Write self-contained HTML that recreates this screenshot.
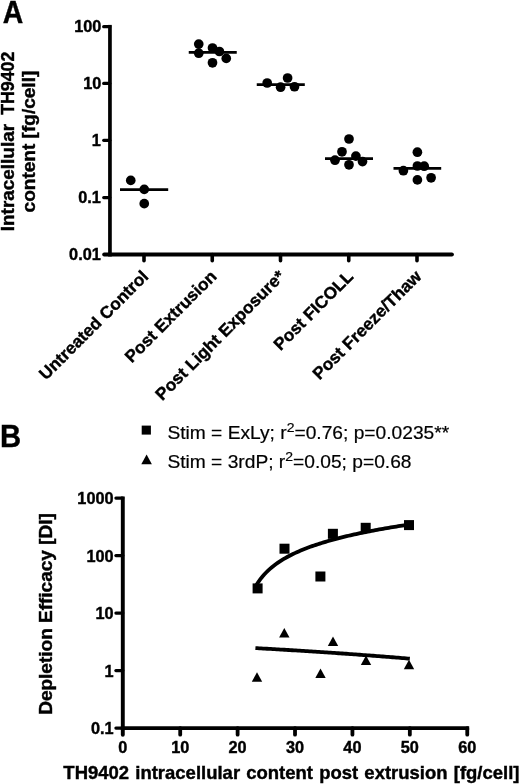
<!DOCTYPE html><html><head><meta charset="utf-8"><title>Figure</title>
<style>html,body{margin:0;padding:0;background:#fff}svg{display:block}text{font-family:"Liberation Sans",Arial,Helvetica,sans-serif;fill:#000}.b{font-weight:bold;stroke:#000;stroke-width:0.4px}</style></head><body>
<svg width="520" height="784" viewBox="0 0 520 784">
<rect width="520" height="784" fill="#fff"/>
<defs><filter id="soft" x="0" y="0" width="100%" height="100%" filterUnits="userSpaceOnUse"><feGaussianBlur stdDeviation="0.45"/></filter></defs>
<g filter="url(#soft)">
<text class="b" font-size="30.5" text-anchor="middle" transform="translate(13.00,22.80) scale(0.9300,1.0000)">A</text>
<g stroke="#000" stroke-linecap="butt" fill="none">
<line x1="109.95" y1="24.9" x2="109.95" y2="256.5" stroke-width="3.7"/>
<line x1="104.2" y1="254.5" x2="451.9" y2="254.5" stroke-width="4" stroke-linecap="round"/>
<line x1="103.7" y1="26.70" x2="109.8" y2="26.70" stroke-width="3.2" stroke-linecap="round"/>
<line x1="103.7" y1="83.40" x2="109.8" y2="83.40" stroke-width="3.2" stroke-linecap="round"/>
<line x1="103.7" y1="140.30" x2="109.8" y2="140.30" stroke-width="3.2" stroke-linecap="round"/>
<line x1="103.7" y1="197.60" x2="109.8" y2="197.60" stroke-width="3.2" stroke-linecap="round"/>
<line x1="144.00" y1="254.5" x2="144.00" y2="260.7" stroke-width="3.6" stroke-linecap="round"/>
<line x1="212.25" y1="254.5" x2="212.25" y2="260.7" stroke-width="3.6" stroke-linecap="round"/>
<line x1="280.50" y1="254.5" x2="280.50" y2="260.7" stroke-width="3.6" stroke-linecap="round"/>
<line x1="348.75" y1="254.5" x2="348.75" y2="260.7" stroke-width="3.6" stroke-linecap="round"/>
<line x1="417.00" y1="254.5" x2="417.00" y2="260.7" stroke-width="3.6" stroke-linecap="round"/>
</g>
<text class="b" font-size="16.3" text-anchor="end" transform="translate(101.30,31.50)">100</text>
<text class="b" font-size="16.3" text-anchor="end" transform="translate(101.30,89.20)">10</text>
<text class="b" font-size="16.3" text-anchor="end" transform="translate(100.80,146.10)">1</text>
<text class="b" font-size="16.3" text-anchor="end" transform="translate(100.80,203.40)">0.1</text>
<text class="b" font-size="16.3" text-anchor="end" transform="translate(100.80,260.30)">0.01</text>
<line x1="120" y1="189.55" x2="168.2" y2="189.55" stroke="#000" stroke-width="2.75"/>
<circle cx="130.75" cy="180.4" r="4.85"/>
<circle cx="144.25" cy="189.4" r="4.85"/>
<circle cx="144.25" cy="203.65" r="4.85"/>
<line x1="188.75" y1="52.4" x2="236.75" y2="52.4" stroke="#000" stroke-width="2.75"/>
<circle cx="198.75" cy="44.1" r="4.85"/>
<circle cx="212.5" cy="48.0" r="4.85"/>
<circle cx="219.4" cy="51.5" r="4.85"/>
<circle cx="198.75" cy="53.2" r="4.85"/>
<circle cx="226.25" cy="58.4" r="4.85"/>
<circle cx="212.5" cy="62.8" r="4.85"/>
<line x1="256.75" y1="84.65" x2="304.8" y2="84.65" stroke="#000" stroke-width="2.75"/>
<circle cx="267.2" cy="83" r="4.85"/>
<circle cx="287.6" cy="78" r="4.85"/>
<circle cx="280.6" cy="87.2" r="4.85"/>
<circle cx="294.5" cy="86.75" r="4.85"/>
<line x1="325" y1="158.5" x2="373" y2="158.5" stroke="#000" stroke-width="2.75"/>
<circle cx="349" cy="139" r="4.85"/>
<circle cx="342" cy="151.8" r="4.85"/>
<circle cx="335" cy="160.2" r="4.85"/>
<circle cx="355.9" cy="156.1" r="4.85"/>
<circle cx="362.5" cy="161.6" r="4.85"/>
<circle cx="349" cy="164.8" r="4.85"/>
<line x1="393.5" y1="168.4" x2="441.2" y2="168.4" stroke="#000" stroke-width="2.75"/>
<circle cx="417.4" cy="152.2" r="4.85"/>
<circle cx="417.4" cy="166.0" r="4.85"/>
<circle cx="424.2" cy="166.2" r="4.85"/>
<circle cx="403.4" cy="170.7" r="4.85"/>
<circle cx="431.1" cy="177.8" r="4.85"/>
<circle cx="417.4" cy="179.9" r="4.85"/>
<text class="b" font-size="17" text-anchor="end" transform="translate(149.40,277.50) rotate(-45) scale(1.0120,1.0000)">Untreated Control</text>
<text class="b" font-size="17" text-anchor="end" transform="translate(217.65,277.50) rotate(-45) scale(1.0150,1.0000)">Post Extrusion</text>
<text class="b" font-size="17" text-anchor="end" transform="translate(285.90,277.50) rotate(-45) scale(1.0180,1.0000)">Post Light Exposure*</text>
<text class="b" font-size="17" text-anchor="end" transform="translate(354.15,277.50) rotate(-45) scale(1.0140,1.0000)">Post FICOLL</text>
<text class="b" font-size="17" text-anchor="end" transform="translate(422.40,277.50) rotate(-45) scale(1.0160,1.0000)">Post Freeze/Thaw</text>
<text class="b" font-size="17.8" text-anchor="start" transform="translate(14.00,231.20) rotate(-90) scale(1.0640,1.0000)">Intracellular</text>
<text class="b" font-size="17.8" text-anchor="end" transform="translate(14.00,51.60) rotate(-90)">TH9402</text>
<text class="b" font-size="17.8" text-anchor="middle" transform="translate(35.40,141.60) rotate(-90) scale(1.0700,1.0000)">content [fg/cell]</text>
<text class="b" font-size="30.5" text-anchor="middle" transform="translate(10.50,446.70) scale(0.9600,1.0000)">B</text>
<rect x="141.7" y="425.6" width="9.2" height="9"/>
<polygon points="146.6,454.6 151.9,464.2 141.3,464.2"/>
<text font-size="17.8" stroke="#000" stroke-width="0.2" transform="translate(167.4,439.3) scale(1.079,1)">Stim = ExLy; r<tspan dy="-7" font-size="13">2</tspan><tspan dy="7">=0.76; p=0.0235**</tspan></text>
<text font-size="17.8" stroke="#000" stroke-width="0.2" transform="translate(167.4,468.4) scale(1.079,1)">Stim = 3rdP; r<tspan dy="-7" font-size="13">2</tspan><tspan dy="7">=0.05; p=0.68</tspan></text>
<g stroke="#000" fill="none">
<line x1="122.8" y1="496.40000000000003" x2="122.8" y2="730.1" stroke-width="3.9"/>
<line x1="122.8" y1="728.1" x2="467.25" y2="728.1" stroke-width="3.9" stroke-linecap="square"/>
<line x1="115.9" y1="498.10" x2="122.8" y2="498.10" stroke-width="3.2" stroke-linecap="round"/>
<line x1="115.9" y1="555.60" x2="122.8" y2="555.60" stroke-width="3.2" stroke-linecap="round"/>
<line x1="115.9" y1="613.10" x2="122.8" y2="613.10" stroke-width="3.2" stroke-linecap="round"/>
<line x1="115.9" y1="670.60" x2="122.8" y2="670.60" stroke-width="3.2" stroke-linecap="round"/>
<line x1="115.9" y1="728.10" x2="122.8" y2="728.10" stroke-width="3.2" stroke-linecap="round"/>
<line x1="180.21" y1="728.1" x2="180.21" y2="734.7" stroke-width="3.8" stroke-linecap="round"/>
<line x1="237.62" y1="728.1" x2="237.62" y2="734.7" stroke-width="3.8" stroke-linecap="round"/>
<line x1="295.02" y1="728.1" x2="295.02" y2="734.7" stroke-width="3.8" stroke-linecap="round"/>
<line x1="352.43" y1="728.1" x2="352.43" y2="734.7" stroke-width="3.8" stroke-linecap="round"/>
<line x1="409.84" y1="728.1" x2="409.84" y2="734.7" stroke-width="3.8" stroke-linecap="round"/>
<line x1="467.25" y1="728.1" x2="467.25" y2="734.7" stroke-width="3.8" stroke-linecap="round"/>
<line x1="122.8" y1="728.1" x2="122.8" y2="734.7" stroke-width="3.9" stroke-linecap="round"/>
</g>
<text class="b" font-size="16.3" text-anchor="end" transform="translate(113.60,504.00)">1000</text>
<text class="b" font-size="16.3" text-anchor="end" transform="translate(113.60,561.50)">100</text>
<text class="b" font-size="16.3" text-anchor="end" transform="translate(113.60,619.00)">10</text>
<text class="b" font-size="16.3" text-anchor="end" transform="translate(113.60,676.50)">1</text>
<text class="b" font-size="16.3" text-anchor="end" transform="translate(113.60,734.00)">0.1</text>
<text class="b" font-size="16.3" text-anchor="middle" transform="translate(122.80,753.20)">0</text>
<text class="b" font-size="16.3" text-anchor="middle" transform="translate(180.21,753.20)">10</text>
<text class="b" font-size="16.3" text-anchor="middle" transform="translate(237.62,753.20)">20</text>
<text class="b" font-size="16.3" text-anchor="middle" transform="translate(295.02,753.20)">30</text>
<text class="b" font-size="16.3" text-anchor="middle" transform="translate(352.43,753.20)">40</text>
<text class="b" font-size="16.3" text-anchor="middle" transform="translate(409.84,753.20)">50</text>
<text class="b" font-size="16.3" text-anchor="middle" transform="translate(467.25,753.20)">60</text>
<text class="b" font-size="17.8" word-spacing="1" text-anchor="middle" transform="translate(291.40,779.20) scale(1.0390,1.0000)">TH9402 intracellular content post extrusion [fg/cell]</text>
<text class="b" font-size="18" text-anchor="middle" transform="translate(51.90,614.00) rotate(-90) scale(1.0560,1.0000)">Depletion Efficacy [DI]</text>
<rect x="252.60" y="583.40" width="10" height="10"/>
<rect x="279.50" y="543.70" width="10" height="10"/>
<rect x="315.40" y="571.50" width="10" height="10"/>
<rect x="327.90" y="528.80" width="10" height="10"/>
<rect x="360.70" y="522.80" width="10" height="10"/>
<rect x="404.00" y="520.10" width="10" height="10"/>
<polygon points="257.00,672.20 262.20,681.80 251.80,681.80"/>
<polygon points="284.30,627.90 289.50,637.50 279.10,637.50"/>
<polygon points="320.50,668.50 325.70,678.10 315.30,678.10"/>
<polygon points="333.00,636.50 338.20,646.10 327.80,646.10"/>
<polygon points="366.00,655.50 371.20,665.10 360.80,665.10"/>
<polygon points="409.00,659.70 414.20,669.30 403.80,669.30"/>
<path d="M256.56,584.79 L258.48,581.79 L260.39,579.12 L262.31,576.70 L264.23,574.50 L266.14,572.47 L268.06,570.60 L269.97,568.86 L271.89,567.23 L273.81,565.70 L275.72,564.26 L277.64,562.90 L279.55,561.61 L281.47,560.38 L283.39,559.21 L285.30,558.09 L287.22,557.02 L289.13,556.00 L291.05,555.01 L292.97,554.06 L294.88,553.15 L296.80,552.27 L298.71,551.42 L300.63,550.60 L302.55,549.80 L304.46,549.03 L306.38,548.28 L308.29,547.55 L310.21,546.84 L312.13,546.16 L314.04,545.49 L315.96,544.84 L317.87,544.20 L319.79,543.58 L321.71,542.98 L323.62,542.39 L325.54,541.81 L327.45,541.25 L329.37,540.70 L331.29,540.16 L333.20,539.63 L335.12,539.12 L337.03,538.61 L338.95,538.11 L340.87,537.63 L342.78,537.15 L344.70,536.68 L346.61,536.22 L348.53,535.77 L350.45,535.33 L352.36,534.89 L354.28,534.46 L356.19,534.04 L358.11,533.63 L360.03,533.22 L361.94,532.82 L363.86,532.43 L365.77,532.04 L367.69,531.66 L369.61,531.28 L371.52,530.91 L373.44,530.55 L375.35,530.19 L377.27,529.83 L379.19,529.48 L381.10,529.14 L383.02,528.79 L384.93,528.46 L386.85,528.13 L388.77,527.80 L390.68,527.48 L392.60,527.16 L394.51,526.84 L396.43,526.53 L398.35,526.23 L400.26,525.92 L402.18,525.62 L404.09,525.33 L406.01,525.03 L407.93,524.75 L409.84,524.46" stroke="#000" stroke-width="3.8" fill="none" stroke-linecap="butt"/>
<path d="M255.41,648.09 L257.34,648.20 L259.27,648.31 L261.20,648.42 L263.13,648.53 L265.07,648.64 L267.00,648.75 L268.93,648.86 L270.86,648.97 L272.79,649.09 L274.72,649.20 L276.65,649.31 L278.58,649.43 L280.51,649.54 L282.44,649.65 L284.37,649.77 L286.30,649.89 L288.23,650.00 L290.16,650.12 L292.09,650.24 L294.02,650.35 L295.95,650.47 L297.88,650.59 L299.81,650.71 L301.74,650.83 L303.67,650.95 L305.60,651.08 L307.53,651.20 L309.46,651.32 L311.39,651.44 L313.32,651.57 L315.25,651.69 L317.18,651.82 L319.11,651.94 L321.05,652.07 L322.98,652.20 L324.91,652.32 L326.84,652.45 L328.77,652.58 L330.70,652.71 L332.63,652.84 L334.56,652.97 L336.49,653.10 L338.42,653.24 L340.35,653.37 L342.28,653.50 L344.21,653.64 L346.14,653.77 L348.07,653.91 L350.00,654.05 L351.93,654.18 L353.86,654.32 L355.79,654.46 L357.72,654.60 L359.65,654.74 L361.58,654.88 L363.51,655.03 L365.44,655.17 L367.37,655.31 L369.30,655.46 L371.23,655.60 L373.16,655.75 L375.10,655.90 L377.03,656.04 L378.96,656.19 L380.89,656.34 L382.82,656.49 L384.75,656.65 L386.68,656.80 L388.61,656.95 L390.54,657.11 L392.47,657.26 L394.40,657.42 L396.33,657.58 L398.26,657.73 L400.19,657.89 L402.12,658.05 L404.05,658.22 L405.98,658.38 L407.91,658.54 L409.84,658.71" stroke="#000" stroke-width="3.8" fill="none" stroke-linecap="butt"/>
</g></svg></body></html>
